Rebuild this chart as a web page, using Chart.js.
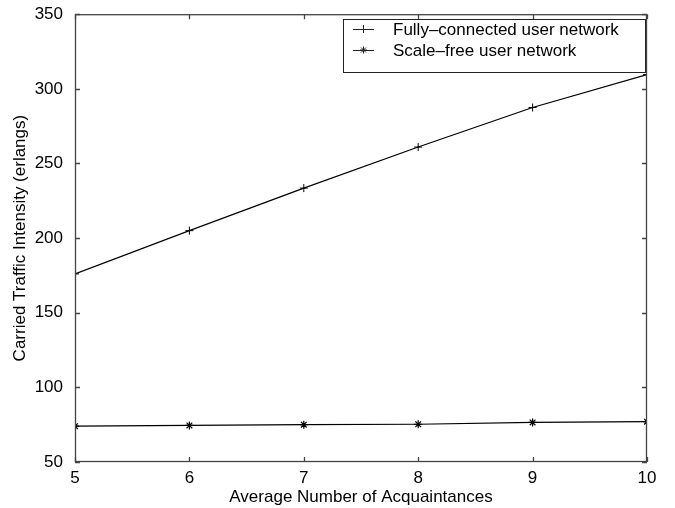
<!DOCTYPE html>
<html>
<head>
<meta charset="utf-8">
<script src="https://cdn.jsdelivr.net/npm/chart.js@4"></script>
<style>
  html, body { margin: 0; padding: 0; background: #fff; }
  #wrap { width: 675px; height: 508px; }
</style>
</head>
<body>
<div id="wrap"><canvas id="myChart" width="675" height="508"></canvas></div>
<script>
var acquaintances = [5, 6, 7, 8, 9, 10];
var fullyConnected = [176, 205, 233.5, 261, 287.5, 309.5];
var scaleFree = [74, 74.5, 75, 75.3, 76.5, 77];
var xTicks = [5, 6, 7, 8, 9, 10];
var yTicks = [50, 100, 150, 200, 250, 300, 350];

var FONT = "'Liberation Sans', Arial, sans-serif";
var FSIZE = 17;

function toPoints(ys) {
  return acquaintances.map(function (x, i) { return { x: x, y: ys[i] }; });
}

// frame + inward ticks on all four sides, MATLAB style, plus the legend box
var framePlugin = {
  id: "frame",
  afterDraw: function (chart) {
    var c = chart.ctx, a = chart.chartArea;
    var xs = chart.scales.x, ys = chart.scales.y;
    c.save();
    c.strokeStyle = "#444";
    c.lineWidth = 1.3;
    c.strokeRect(a.left + 0.5, a.top + 0.5, a.right - a.left - 1, a.bottom - a.top - 1);
    c.beginPath();
    xTicks.forEach(function (v) {
      var px = Math.round(xs.getPixelForValue(v)) + 0.5;
      c.moveTo(px, a.bottom); c.lineTo(px, a.bottom - 5);
      c.moveTo(px, a.top); c.lineTo(px, a.top + 5);
    });
    yTicks.forEach(function (v) {
      var py = Math.round(ys.getPixelForValue(v)) + 0.5;
      c.moveTo(a.left, py); c.lineTo(a.left + 5, py);
      c.moveTo(a.right, py); c.lineTo(a.right - 5, py);
    });
    c.stroke();

    // legend
    var lx = 343, ly = 19, lw = 302, lh = 53;
    c.fillStyle = "#fff";
    c.fillRect(lx, ly, lw, lh);
    c.strokeStyle = "#222";
    c.lineWidth = 1;
    c.strokeRect(lx + 0.5, ly + 0.5, lw, lh);
    c.font = FSIZE + "px " + FONT;
    c.fillStyle = "#000";
    c.textBaseline = "middle";
    var names = ["Fully\u2013connected user network", "Scale\u2013free user network"];
    names.forEach(function (name, i) {
      var yy = ly + 10 + i * 21;
      c.beginPath();
      c.moveTo(lx + 10, yy + 0.5); c.lineTo(lx + 31, yy + 0.5);
      c.stroke();
      var mx = lx + 20.5;
      c.beginPath();
      if (i === 0) {
        c.moveTo(mx - 4, yy + 0.5); c.lineTo(mx + 4, yy + 0.5);
        c.moveTo(mx, yy - 4); c.lineTo(mx, yy + 4);
      } else {
        for (var k = 0; k < 4; k++) {
          var ang = k * Math.PI / 4;
          c.moveTo(mx - 3.5 * Math.cos(ang), yy - 3.5 * Math.sin(ang));
          c.lineTo(mx + 3.5 * Math.cos(ang), yy + 3.5 * Math.sin(ang));
        }
      }
      c.stroke();
      c.fillText(name, lx + 50, yy + 1);
    });
    c.restore();
  }
};

var ctx = document.getElementById("myChart").getContext("2d");
var myChart = new Chart(ctx, {
  type: "line",
  data: {
    datasets: [
      {
        label: "Fully-connected user network",
        data: toPoints(fullyConnected),
        borderColor: "#000",
        backgroundColor: "#000",
        borderWidth: 1.2,
        pointStyle: "cross",
        pointRadius: 4,
        pointBorderWidth: 1,
      },
      {
        label: "Scale-free user network",
        data: toPoints(scaleFree),
        borderColor: "#000",
        backgroundColor: "#000",
        borderWidth: 1.2,
        pointStyle: "star",
        pointRadius: 4,
        pointBorderWidth: 1.2,
      },
    ],
  },
  options: {
    responsive: false,
    animation: false,
    layout: { padding: { top: 12, right: 28, left: 0, bottom: 0 } },
    plugins: { legend: { display: false }, tooltip: { enabled: false } },
    scales: {
      x: {
        type: "linear",
        min: 5,
        max: 10,
        afterFit: function (s) { s.height = 46; },
        afterBuildTicks: function (s) { s.ticks = xTicks.map(function (v) { return { value: v }; }); },
        grid: { display: false },
        border: { display: false },
        ticks: { color: "#000", font: { family: FONT, size: FSIZE }, padding: -2, maxRotation: 0 },
        title: { display: true, text: "Average Number of Acquaintances", color: "#000", font: { family: FONT, size: FSIZE }, padding: { top: -5, bottom: 0 } },
      },
      y: {
        min: 50,
        max: 350,
        afterFit: function (s) { s.width = 75; },
        afterBuildTicks: function (s) { s.ticks = yTicks.map(function (v) { return { value: v }; }); },
        grid: { display: false },
        border: { display: false },
        ticks: { color: "#000", font: { family: FONT, size: FSIZE }, padding: 4 },
        title: { display: true, text: "Carried Traffic Intensity (erlangs)", color: "#000", font: { family: FONT, size: FSIZE }, padding: { top: 10, bottom: 4 } },
      },
    },
  },
  plugins: [framePlugin],
});
</script>
</body>
</html>
